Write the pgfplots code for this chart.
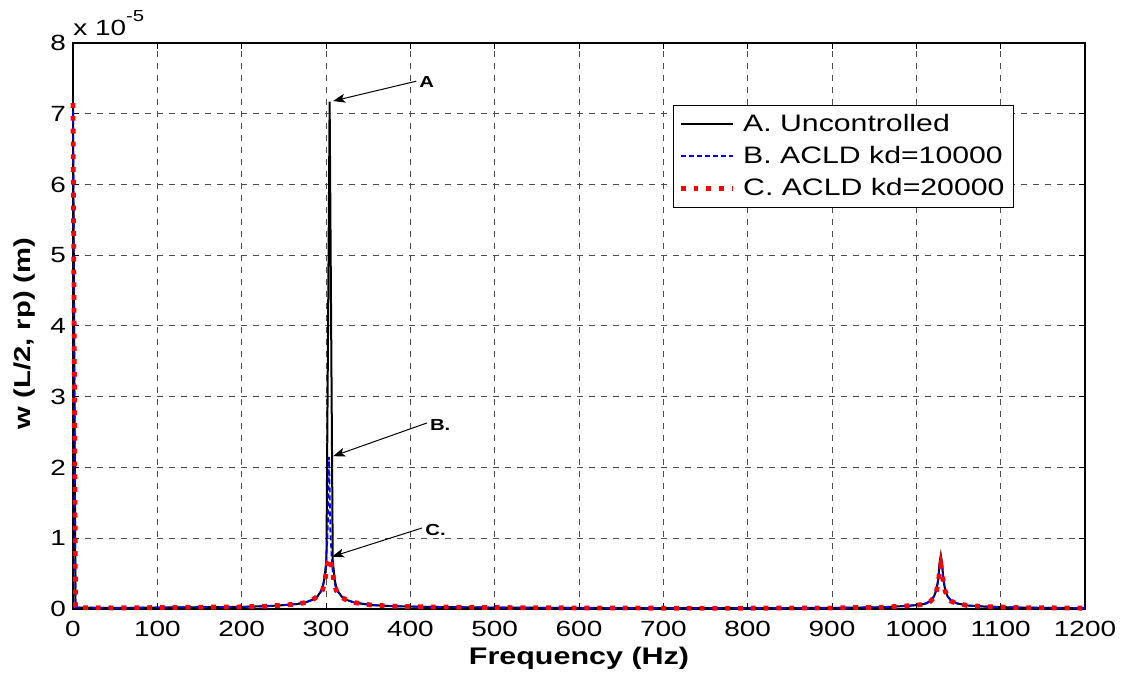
\documentclass[border=0pt]{standalone}
\usepackage{fontspec}
\setmainfont{Liberation Sans}[FakeStretch=1.27]
\usepackage{pgfplots}
\pgfplotsset{compat=1.18}
\usetikzlibrary{arrows.meta}

\begin{document}
\begin{tikzpicture}
\useasboundingbox (-36.5pt,-32pt) rectangle (527pt,304.5pt);
\begin{axis}[
  scale only axis, width=506pt, height=283pt,
  xmin=0, xmax=1200, ymin=0, ymax=8,
  xtick={0,100,...,1200}, ytick={0,1,...,8},
  scaled ticks=false, clip=false,
  grid=major,
  grid style={dash pattern=on 3pt off 3pt, black!70, line width=0.5pt},
  tick align=inside, major tick length=3pt,
  every tick/.style={black, line width=0.5pt},
  axis line style={line width=0.6pt},
  ticklabel style={font=\fontsize{11}{13}\selectfont},
  xticklabel style={yshift=-2.5pt},
  /pgf/number format/assume math mode=true,
  /pgf/number format/1000 sep={},
  xlabel={Frequency (Hz)},
  ylabel={w (L/2, rp) (m)},
  xlabel style={font=\bfseries\fontsize{12}{14}\selectfont, at={(axis description cs:0.5,-0.087)}, anchor=center},
  ylabel style={font=\bfseries\fontsize{11.5}{14}\selectfont, at={(axis description cs:-0.0475,0.487)}, anchor=center},
  legend style={at={(axis description cs:0.5929,0.8905)}, anchor=north west,
    draw=black, fill=white, inner xsep=2.5pt, inner ysep=2.2pt,
    font=\fontsize{11.9}{14}\selectfont, row sep=2pt},
  legend cell align=left,
  legend image code/.code={\draw[#1] (0pt,0pt) -- (26pt,0pt);},
  /tikz/every odd column/.append style={column sep=2pt},
]
% A. Uncontrolled
\addplot[black, line width=1pt] coordinates {
  (0,7.15) (3,0.02) (50,0.015) (100,0.02) (150,0.025) (200,0.03) (230,0.04)
  (250,0.055) (265,0.07) (275,0.09) (284,0.13) (290,0.18) (294,0.25)
  (296,0.31) (298,0.42) (300.5,0.68) (304.3,7.17) (308,0.68) (310.5,0.4) (312,0.32)
  (314,0.25) (319,0.17) (324,0.13) (334,0.09) (354,0.055) (380,0.04) (420,0.03)
  (500,0.02) (600,0.015) (700,0.012) (800,0.012) (900,0.015) (960,0.025)
  (990,0.045) (1005,0.06) (1012,0.08) (1017,0.12) (1021,0.18) (1024,0.28)
  (1026,0.42) (1027.5,0.65) (1029,0.76) (1030.5,0.65) (1032,0.42) (1034,0.28)
  (1037,0.18) (1041,0.12) (1048,0.08) (1060,0.05) (1080,0.035) (1120,0.02) (1200,0.012)
};
\addlegendentry{A. Uncontrolled}
% B. ACLD kd=10000
\addplot[blue, line width=0.9pt, dash pattern=on 2.5pt off 1.5pt] coordinates {
  (0,7.15) (3,0.02) (50,0.015) (100,0.02) (150,0.025) (200,0.03) (230,0.04)
  (250,0.055) (265,0.07) (275,0.09) (284,0.13) (290,0.18) (294,0.25)
  (296,0.3) (298,0.42) (300,0.62) (302,1.1) (303.6,2.15) (305.2,1.1) (307.2,0.62)
  (309.2,0.42) (311,0.33) (314,0.25) (319,0.17) (324,0.13) (334,0.09) (354,0.055)
  (380,0.04) (420,0.03) (500,0.02) (600,0.015) (700,0.012) (800,0.012) (900,0.015)
  (960,0.025) (990,0.045) (1005,0.06) (1012,0.08) (1017,0.12) (1021,0.18)
  (1024,0.28) (1026,0.42) (1027.5,0.6) (1029,0.7) (1030.5,0.6) (1032,0.42)
  (1034,0.28) (1037,0.18) (1041,0.12) (1048,0.08) (1060,0.05) (1080,0.035)
  (1120,0.02) (1200,0.012)
};
\addlegendentry{B. ACLD kd=10000}
% C. ACLD kd=20000
\addplot[red, line width=2.4pt, dash pattern=on 2.4pt off 4pt] coordinates {
  (0,7.15) (3,0.02) (50,0.015) (100,0.02) (150,0.025) (200,0.03) (230,0.04)
  (250,0.055) (265,0.07) (275,0.09) (284,0.13) (290,0.18) (294,0.24)
  (296,0.27) (298,0.36) (300,0.5) (302,0.65) (304,0.72) (306,0.65) (308,0.5)
  (310,0.36) (312,0.27) (314,0.22) (319,0.16) (324,0.13) (334,0.09) (354,0.055)
  (380,0.04) (420,0.03) (500,0.02) (600,0.015) (700,0.012) (800,0.012) (900,0.015)
  (960,0.025) (990,0.045) (1005,0.06) (1012,0.08) (1017,0.11) (1021,0.17)
  (1024,0.26) (1026,0.38) (1027.5,0.52) (1029,0.62) (1030.5,0.52) (1032,0.38)
  (1034,0.26) (1037,0.17) (1041,0.11) (1048,0.08) (1060,0.05) (1080,0.035)
  (1120,0.02) (1200,0.012)
};
\addlegendentry{C. ACLD kd=20000}

% exponent label
\node[anchor=base west, inner sep=0pt, font=\fontsize{11}{13}\selectfont]
  at (rel axis cs:0,1) [yshift=3.5pt] {x 10\raisebox{7pt}{\fontsize{8}{9}\selectfont -5}};

% annotations
\draw[line width=0.5pt, -{Stealth[length=6pt, width=4.5pt, inset=1.5pt]}]
  (axis cs:407,7.46) -- (axis cs:308.5,7.18);
\node[anchor=west, inner sep=1pt, font=\bfseries\fontsize{8}{9}\selectfont] at (axis cs:408,7.45) {A};
\draw[line width=0.5pt, -{Stealth[length=6pt, width=4.5pt, inset=1.5pt]}]
  (axis cs:419.8,2.63) -- (axis cs:308.5,2.16);
\node[anchor=west, inner sep=1pt, font=\bfseries\fontsize{8}{9}\selectfont] at (axis cs:420.5,2.6) {B.};
\draw[line width=0.5pt, -{Stealth[length=6pt, width=4.5pt, inset=1.5pt]}]
  (axis cs:413.9,1.145) -- (axis cs:307.2,0.74);
\node[anchor=west, inner sep=1pt, font=\bfseries\fontsize{8}{9}\selectfont] at (axis cs:415,1.12) {C.};
\end{axis}
\end{tikzpicture}
\end{document}
